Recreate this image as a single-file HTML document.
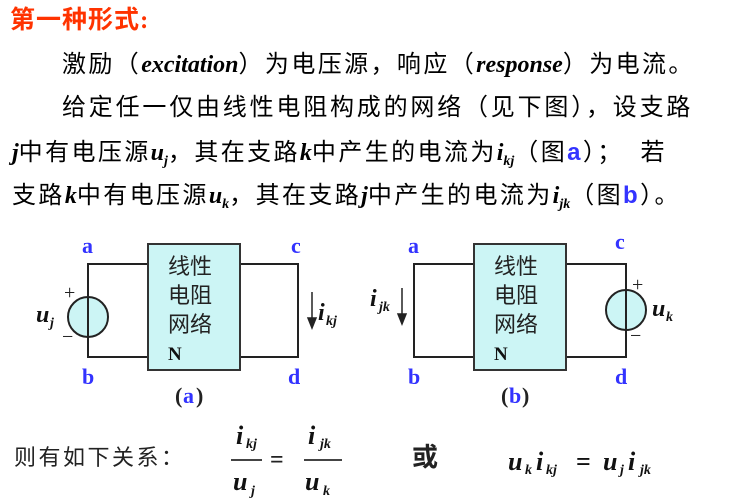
<html><head><style>
body{margin:0;width:748px;height:498px;background:#fff;position:relative;overflow:hidden;font-family:"Liberation Serif","Noto Serif CJK SC",serif;}
.t{position:absolute;font-size:24px;letter-spacing:2.4px;color:#000;white-space:nowrap;font-family:"Liberation Serif","Noto Sans CJK SC",sans-serif;}
.b{font-weight:bold;font-style:italic;font-family:"Liberation Serif",serif;letter-spacing:0;}
.bl{color:#3333ff;font-weight:bold;font-family:"Liberation Sans",sans-serif;}
sub{font-size:14px;vertical-align:-5px;}
</style></head><body>
<div class="t" style="left:10px;top:0px;color:#ff3300;letter-spacing:1px;font-size:25px;font-weight:bold;">第一种形式:</div>
<div class="t" style="left:62px;top:44px;">激励（<span class="b">excitation</span>）为电压源，响应（<span class="b">response</span>）为电流。</div>
<div class="t" style="left:62px;top:87px;letter-spacing:2.8px;">给定任一仅由线性电阻构成的网络（见下图），设支路</div>
<div class="t" style="left:12px;top:132px;"><span class="b">j</span>中有电压源<span class="b">u<sub>j</sub></span>，其在支路<span class="b">k</span>中产生的电流为<span class="b">i<sub>kj</sub></span>（图<span class="bl">a</span>）；&nbsp;&nbsp;若</div>
<div class="t" style="left:12px;top:175px;">支路<span class="b">k</span>中有电压源<span class="b">u<sub>k</sub></span>，其在支路<span class="b">j</span>中产生的电流为<span class="b">i<sub>jk</sub></span>（图<span class="bl">b</span>）。</div>
<svg width="748" height="498" style="position:absolute;left:0;top:0" font-family="Liberation Serif">
<g stroke="#222" stroke-width="2" fill="none">
<polyline points="148,264 88,264 88,357 148,357"/>
<polyline points="240,264 298,264 298,357 240,357"/>
<polyline points="474,264 414,264 414,357 474,357"/>
<polyline points="566,264 626,264 626,357 566,357"/>
</g>
<rect x="148" y="244" width="92" height="126" fill="#ccf5f5" stroke="#333" stroke-width="2"/>
<rect x="474" y="244" width="92" height="126" fill="#ccf5f5" stroke="#333" stroke-width="2"/>
<circle cx="88" cy="317" r="20" fill="#ccf5f5" stroke="#222" stroke-width="2"/>
<line x1="88" y1="297" x2="88" y2="337" stroke="#222" stroke-width="2"/>
<circle cx="626" cy="310" r="20" fill="#ccf5f5" stroke="#222" stroke-width="2"/>
<line x1="626" y1="290" x2="626" y2="330" stroke="#222" stroke-width="2"/>
<g font-family="Noto Sans CJK SC" font-size="22" fill="#222">
<text x="168" y="274">线性</text><text x="168" y="303">电阻</text><text x="168" y="332">网络</text>
<text x="494" y="274">线性</text><text x="494" y="303">电阻</text><text x="494" y="332">网络</text>
</g>
<g font-weight="bold" font-size="19" fill="#111"><text x="168" y="360">N</text><text x="494" y="360">N</text></g>
<g font-size="20" fill="#222"><text x="64" y="299">+</text><text x="62" y="343">−</text><text x="632" y="291">+</text><text x="630" y="342">−</text></g>
<g fill="#3333ff" font-weight="bold" font-size="22">
<text x="82" y="253">a</text><text x="82" y="384">b</text><text x="291" y="253">c</text><text x="288" y="384">d</text>
<text x="408" y="253">a</text><text x="408" y="384">b</text><text x="615" y="249">c</text><text x="615" y="384">d</text>
<text x="183" y="403">a</text><text x="509" y="403">b</text>
</g>
<g font-weight="bold" font-size="22" fill="#222"><text x="175" y="403">(</text><text x="196" y="403">)</text><text x="501" y="403">(</text><text x="522" y="403">)</text></g>
<g font-weight="bold" font-style="italic" fill="#111">
<text x="36" y="322" font-size="24">u</text><text x="50" y="327" font-size="14">j</text>
<text x="318" y="320" font-size="24">i</text><text x="326" y="325" font-size="14">kj</text>
<text x="370" y="306" font-size="24">i</text><text x="379" y="311" font-size="14">jk</text>
<text x="652" y="316" font-size="24">u</text><text x="666" y="321" font-size="14">k</text>
</g>
<g stroke="#222" stroke-width="1.5" fill="#222">
<line x1="312" y1="292" x2="312" y2="322"/><polygon points="308,318 316,318 312,328"/>
<line x1="402" y1="288" x2="402" y2="318"/><polygon points="398,314 406,314 402,324"/>
</g>
<text x="14" y="465" font-family="Noto Sans CJK SC" font-size="22" letter-spacing="2.5" fill="#222">则有如下关系：</text>
<line x1="231" y1="460" x2="262" y2="460" stroke="#444" stroke-width="2"/>
<line x1="304" y1="460" x2="342" y2="460" stroke="#444" stroke-width="2"/>
<text x="270" y="467" font-size="24" font-weight="bold" fill="#222">=</text>
<text x="412" y="466" font-family="Noto Sans CJK SC" font-size="26" font-weight="bold" fill="#222">或</text>
<g font-weight="bold" font-style="italic" fill="#111">
<text x="236" y="444" font-size="26">i</text><text x="246" y="448" font-size="14">kj</text>
<text x="308" y="444" font-size="26">i</text><text x="320" y="448" font-size="14">jk</text>
<text x="233" y="490" font-size="26">u</text><text x="251" y="495" font-size="14">j</text>
<text x="305" y="490" font-size="26">u</text><text x="323" y="495" font-size="14">k</text>
<text x="508" y="470" font-size="26">u</text><text x="525" y="474" font-size="14">k</text>
<text x="536" y="470" font-size="26">i</text><text x="546" y="474" font-size="14">kj</text>
<text x="576" y="470" font-size="26" font-style="normal">=</text>
<text x="603" y="470" font-size="26">u</text><text x="620" y="474" font-size="14">j</text>
<text x="628" y="470" font-size="26">i</text><text x="640" y="474" font-size="14">jk</text>
</g>
</svg>
</body></html>
